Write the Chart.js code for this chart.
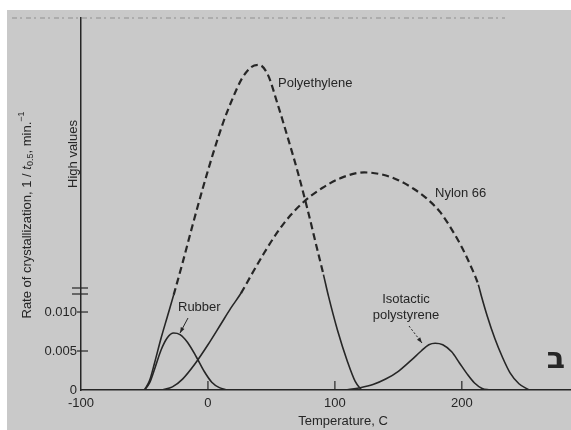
<!DOCTYPE html>
<html>
<head>
<meta charset="utf-8">
<script src="https://cdn.jsdelivr.net/npm/chart.js@4"></script>
<style>
  html, body { margin: 0; padding: 0; background: #fff; }
  #wrap { width: 571px; height: 430px; }
</style>
</head>
<body>
<div id="wrap"><canvas id="myChart" width="571" height="430"></canvas></div>
<script>
// temperature (C) and rate of crystallization
const polyethyleneT = [-50, -46, -42, -37, -32, -27, -20, -12, -4, 4, 12, 20, 27, 34, 40, 47, 55, 63, 71, 79, 86, 91, 95, 102, 110, 116, 121]
const polyethyleneRate = [0, 0.0012, 0.0035, 0.0066, 0.0094, 0.0122, 0.0163, 0.0212, 0.0259, 0.0303, 0.0343, 0.0376, 0.04, 0.0414, 0.0417, 0.0405, 0.0366, 0.0323, 0.0278, 0.0228, 0.0181, 0.0148, 0.012, 0.0077, 0.0036, 0.0011, 0]

const nylonT = [-36, -28, -20, -10, 0, 10, 18, 26, 34, 44, 55, 65, 76, 90, 105, 123, 138, 150, 162, 172, 183, 192, 200, 207, 213, 215.5, 220, 226, 232, 238, 245, 253]
const nylonRate = [0, 0.0004, 0.0014, 0.0034, 0.0058, 0.0084, 0.0105, 0.0124, 0.0147, 0.0175, 0.0203, 0.0224, 0.0242, 0.0259, 0.0272, 0.0279, 0.0276, 0.0269, 0.0258, 0.0246, 0.0228, 0.0206, 0.0183, 0.0159, 0.0135, 0.012, 0.0095, 0.0066, 0.0042, 0.0022, 0.0008, 0]

const rubberT = [-50, -46, -42, -37, -32, -27, -22, -16, -9, -3, 3, 9, 15]
const rubberRate = [0, 0.0009, 0.0027, 0.0051, 0.0067, 0.0073, 0.0071, 0.0061, 0.0042, 0.0024, 0.001, 0.0003, 0]

const polystyreneT = [108, 120, 130, 140, 150, 160, 168, 174, 179, 185, 192, 198, 204, 210, 216, 222]
const polystyreneRate = [0, 0.0003, 0.0007, 0.0014, 0.0024, 0.0038, 0.005, 0.0058, 0.006, 0.0058, 0.0049, 0.0035, 0.0021, 0.0009, 0.0002, 0]

const xTicks = [-100, 0, 100, 200]
const yTicks = [0, 0.005, 0.010]
const yTickLabels = ['0', '0.005', '0.010']

const breakLevel = 0.0121   // above this the curves are drawn dashed ("high values")
const ink = '#262626'
const font = '"Liberation Sans", Arial, sans-serif'

function pts(xs, ys) {
  return xs.map((x, i) => ({ x: x, y: ys[i] }))
}

function high(c) {
  return c.p0.parsed.y > breakLevel && c.p1.parsed.y > breakLevel
}

function curve(label, xs, ys) {
  return {
    label: label,
    data: pts(xs, ys),
    borderColor: ink,
    borderWidth: 1.6,
    pointRadius: 0,
    cubicInterpolationMode: 'monotone',
    segment: {
      borderDash: c => high(c) ? [7, 4] : undefined,
      borderWidth: c => high(c) ? 2.2 : 1.6
    }
  }
}

function arrow(ctx, x1, y1, x2, y2, dashed) {
  ctx.save()
  ctx.strokeStyle = ink
  ctx.fillStyle = ink
  ctx.lineWidth = 1
  if (dashed) ctx.setLineDash([2, 2])
  ctx.beginPath()
  ctx.moveTo(x1, y1)
  ctx.lineTo(x2, y2)
  ctx.stroke()
  ctx.setLineDash([])
  const a = Math.atan2(y2 - y1, x2 - x1)
  ctx.beginPath()
  ctx.moveTo(x2, y2)
  ctx.lineTo(x2 - 6 * Math.cos(a - 0.35), y2 - 6 * Math.sin(a - 0.35))
  ctx.lineTo(x2 - 6 * Math.cos(a + 0.35), y2 - 6 * Math.sin(a + 0.35))
  ctx.closePath()
  ctx.fill()
  ctx.restore()
}

const paper = {
  id: 'paper',
  beforeDraw(chart) {
    const ctx = chart.ctx
    ctx.save()
    ctx.fillStyle = '#ffffff'
    ctx.fillRect(0, 0, chart.width, chart.height)
    ctx.fillStyle = '#c9c9c9'
    ctx.fillRect(7, 10, chart.width - 7, chart.height - 10)
    // faint broken rule along the top of the scan
    ctx.strokeStyle = 'rgba(70,70,70,0.45)'
    ctx.lineWidth = 1
    ctx.setLineDash([5, 3, 2, 4])
    ctx.beginPath()
    ctx.moveTo(12, 18)
    ctx.lineTo(505, 18)
    ctx.stroke()
    ctx.restore()
  },
  afterDatasetsDraw(chart) {
    const ctx = chart.ctx
    const x = chart.scales.x
    const y = chart.scales.y
    const x0 = x.getPixelForValue(-100)
    const y0 = y.getPixelForValue(0)
    ctx.save()
    ctx.strokeStyle = ink
    ctx.lineWidth = 1.2

    // tick marks on the axes
    yTicks.slice(1).forEach(v => {
      const py = y.getPixelForValue(v)
      ctx.beginPath(); ctx.moveTo(x0 - 4, py); ctx.lineTo(x0 + 7, py); ctx.stroke()
    })
    xTicks.slice(1).forEach(v => {
      const px = x.getPixelForValue(v)
      ctx.beginPath(); ctx.moveTo(px, y0); ctx.lineTo(px, y0 - 9); ctx.stroke()
    })

    // axis break
    ;[288, 294].forEach(py => {
      ctx.beginPath(); ctx.moveTo(x0 - 9, py); ctx.lineTo(x0 + 7, py); ctx.stroke()
    })

    // curve labels
    ctx.fillStyle = ink
    ctx.font = '13px ' + font
    ctx.textBaseline = 'middle'
    ctx.textAlign = 'left'
    ctx.fillText('Polyethylene', 278, 83)
    ctx.fillText('Nylon 66', 435, 193)
    ctx.fillText('Rubber', 178, 307)
    ctx.textAlign = 'center'
    ctx.fillText('Isotactic', 406, 299)
    ctx.fillText('polystyrene', 406, 315)
    arrow(ctx, 188, 318, 180, 333, false)
    arrow(ctx, 409, 326, 422, 343, true)

    // axis titles
    ctx.fillText('Temperature, C', 343, 421)

    ctx.save()
    ctx.translate(73, 154)
    ctx.rotate(-Math.PI / 2)
    ctx.fillText('High values', 0, 0)
    ctx.restore()

    const parts = [
      ['Rate of crystallization, 1 / ', '13px ' + font, 0],
      ['t', 'italic 13px ' + font, 0],
      ['0.5', '9px ' + font, 4],
      [', min.', '13px ' + font, 0],
      ['\u22121', '9px ' + font, -5]
    ]
    let total = 0
    parts.forEach(p => { ctx.font = p[1]; total += ctx.measureText(p[0]).width })
    ctx.save()
    ctx.translate(27, 215)
    ctx.rotate(-Math.PI / 2)
    ctx.textAlign = 'left'
    let cx = -total / 2
    parts.forEach(p => {
      ctx.font = p[1]
      ctx.fillText(p[0], cx, p[2])
      cx += ctx.measureText(p[0]).width
    })
    ctx.restore()

    // Hebrew letter in the margin
    ctx.font = 'bold 30px "DejaVu Sans", sans-serif'
    ctx.textAlign = 'center'
    ctx.fillText('\u05D1', 556, 360)
    ctx.restore()
  }
}

;(() => {
  'use strict'

  const ctx = document.getElementById('myChart')

  // eslint-disable-next-line no-unused-vars
  var myChart = new Chart(ctx, {
    type: 'line',
    data: {
      datasets: [
        curve('Polyethylene', polyethyleneT, polyethyleneRate),
        curve('Nylon 66', nylonT, nylonRate),
        curve('Rubber', rubberT, rubberRate),
        curve('Isotactic polystyrene', polystyreneT, polystyreneRate)
      ]
    },
    options: {
      responsive: false,
      animation: false,
      layout: { padding: { top: 18, right: 0, left: 0, bottom: 0 } },
      plugins: {
        legend: { display: false },
        tooltip: { enabled: false }
      },
      scales: {
        x: {
          type: 'linear',
          min: -100,
          max: 286,
          afterFit: s => { s.height = 40 },
          afterBuildTicks: s => { s.ticks = xTicks.map(v => ({ value: v })) },
          grid: { display: false, drawTicks: false },
          border: { display: true, color: ink, width: 1.5 },
          ticks: {
            padding: 6,
            color: ink,
            font: { family: font, size: 13 },
            maxRotation: 0,
            callback: v => String(v)
          }
        },
        y: {
          type: 'linear',
          min: 0,
          max: 0.0477,
          afterFit: s => { s.width = 81 },
          afterBuildTicks: s => { s.ticks = yTicks.map(v => ({ value: v })) },
          grid: { display: false, drawTicks: false },
          border: { display: true, color: ink, width: 1.5 },
          ticks: {
            padding: 4,
            color: ink,
            font: { family: font, size: 13 },
            callback: (v, i) => yTickLabels[i]
          }
        }
      }
    },
    plugins: [paper]
  })
})()
</script>
</body>
</html>
